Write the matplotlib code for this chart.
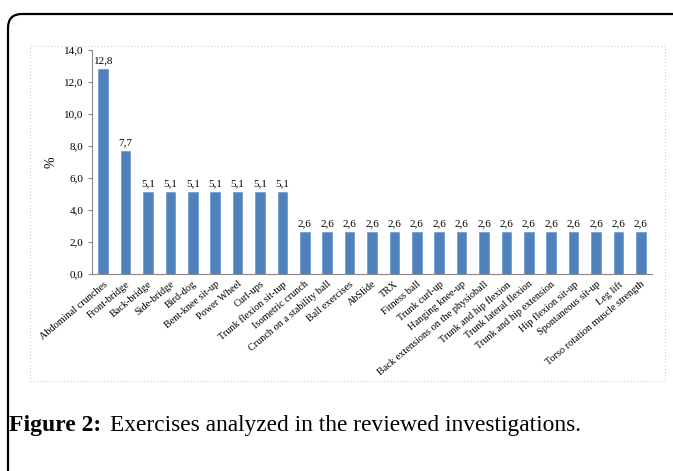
import numpy as np
import matplotlib.pyplot as plt
from matplotlib.patches import Rectangle, PathPatch
from matplotlib.path import Path

exercises = ["Abdominal crunches", "Front-bridge", "Back-bridge", "Side-bridge",
             "Bird-dog", "Bent-knee sit-up", "Power Wheel", "Curl-ups",
             "Trunk flexion sit-tup", "Isometric crunch", "Crunch on a stability ball",
             "Ball exercises", "AbSlide", "TRX", "Fitness ball", "Trunk curl-up",
             "Hanging knee-up", "Back extensions on the physioball",
             "Trunk and hip flexion", "Trunk lateral flexion", "Trunk and hip extension",
             "Hip flexion sit-up", "Spontaneous sit-up", "Leg lift",
             "Torso rotation muscle strength"]
percent = [12.8, 7.7, 5.1, 5.1, 5.1, 5.1, 5.1, 5.1, 5.1,
           2.6, 2.6, 2.6, 2.6, 2.6, 2.6, 2.6, 2.6, 2.6, 2.6, 2.6, 2.6, 2.6, 2.6, 2.6, 2.6]
yticks = [0, 2, 4, 6, 8, 10, 12, 14]

plt.rcParams['font.family'] = ['Liberation Serif', 'DejaVu Serif']

W, H = 673, 471
fig = plt.figure(figsize=(W / 100, H / 100), dpi=100)

# outer black frame: only the top-left rounded corner is inside the picture
r = 14
pts = [(W + 20, 14), (8 + r, 14), (8, 14), (8, 14 + r), (8, H + 20)]
codes = [Path.MOVETO, Path.LINETO, Path.CURVE3, Path.CURVE3, Path.LINETO]
pts = [(px / W, 1 - py / H) for px, py in pts]
frame = PathPatch(Path(pts, codes), transform=fig.transFigure, fill=False,
                  edgecolor="black", linewidth=1.6)
fig.patches.append(frame)

# dotted chart area border
inner = Rectangle((30 / W, 1 - 381 / H), (665 - 30) / W, (381 - 46) / H,
                  transform=fig.transFigure, fill=False,
                  edgecolor="#d0d0d0", linewidth=0.8, linestyle=(0, (1, 2)))
fig.patches.append(inner)

ax = fig.add_axes([92 / W, 1 - 274 / H, (652 - 92) / W, (274 - 50) / H])
x = np.arange(len(exercises))
ax.bar(x, percent, width=0.42, color="#4F81BD", edgecolor="#5B8BC6", linewidth=0.4)

for xi, v in zip(x, percent):
    ax.text(xi, v + 0.25, f"{v:.1f}".replace(".", ","), ha="center", va="bottom",
            fontsize=8)

ax.set_xlim(-0.5, len(exercises) - 0.5)
ax.set_ylim(0, 14)
ax.set_yticks(yticks)
ax.set_yticklabels([f"{t:.1f}".replace(".", ",") for t in yticks], fontsize=8)
ax.set_xticks(x)
ax.set_xticklabels(exercises, rotation=40, ha="right", rotation_mode="anchor",
                   fontsize=7.4)
ax.tick_params(axis="x", length=0, pad=4)
ax.tick_params(axis="y", length=3, color="#888888", pad=3)
for s in ["top", "right"]:
    ax.spines[s].set_visible(False)
ax.spines["left"].set_color("#888888")
ax.spines["bottom"].set_color("#888888")
ax.set_ylabel("%", fontsize=10, labelpad=5)

fig.text(8 / W + 0.002, 1 - 425 / H, "Figure 2:", fontsize=17, fontweight="bold",
         va="center", ha="left")
fig.text(110 / W, 1 - 425 / H, "Exercises analyzed in the reviewed investigations.",
         fontsize=16.8, va="center", ha="left")

fig.savefig("out.png", dpi=100)
